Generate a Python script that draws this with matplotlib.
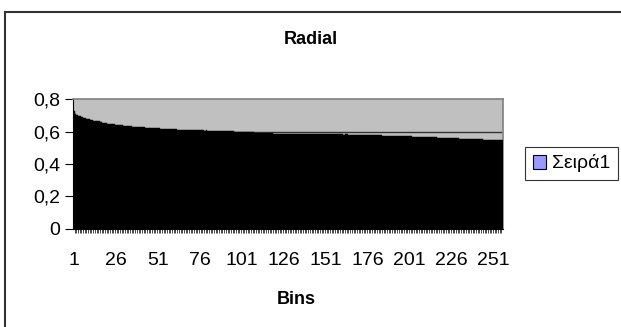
import matplotlib
matplotlib.use("Agg")
import matplotlib.pyplot as plt
from matplotlib.patches import Patch
from matplotlib.lines import Line2D

plt.rcParams['font.family'] = ['Liberation Sans', 'DejaVu Sans']

title = "Radial"
xlabel = "Bins"
series_name = "Σειρά1"

values = [
    0.729, 0.712, 0.705, 0.700, 0.696, 0.694, 0.688, 0.684, 0.679, 0.676, 0.672, 0.671, 0.668, 0.667, 0.666, 0.664,
    0.660, 0.657, 0.655, 0.654, 0.651, 0.650, 0.648, 0.648, 0.645, 0.643, 0.642, 0.641, 0.640, 0.639, 0.638, 0.636,
    0.636, 0.634, 0.633, 0.632, 0.631, 0.631, 0.630, 0.629, 0.628, 0.628, 0.627, 0.626, 0.626, 0.625, 0.624, 0.623,
    0.623, 0.622, 0.622, 0.621, 0.620, 0.620, 0.619, 0.619, 0.618, 0.617, 0.617, 0.616, 0.615, 0.614, 0.613, 0.612,
    0.612, 0.612, 0.611, 0.611, 0.611, 0.610, 0.610, 0.611, 0.610, 0.609, 0.609, 0.609, 0.608, 0.608, 0.607, 0.608,
    0.607, 0.606, 0.606, 0.606, 0.605, 0.606, 0.605, 0.604, 0.604, 0.604, 0.603, 0.603, 0.603, 0.602, 0.602, 0.602,
    0.601, 0.601, 0.601, 0.600, 0.600, 0.599, 0.599, 0.598, 0.598, 0.597, 0.596, 0.596, 0.595, 0.595, 0.594, 0.594,
    0.593, 0.592, 0.592, 0.591, 0.591, 0.590, 0.590, 0.589, 0.589, 0.588, 0.588, 0.587, 0.588, 0.587, 0.587, 0.586,
    0.586, 0.586, 0.587, 0.585, 0.585, 0.586, 0.587, 0.585, 0.585, 0.584, 0.585, 0.586, 0.584, 0.584, 0.585, 0.584,
    0.584, 0.585, 0.586, 0.587, 0.585, 0.584, 0.584, 0.583, 0.585, 0.586, 0.584, 0.583, 0.583, 0.584, 0.585, 0.583,
    0.583, 0.582, 0.583, 0.584, 0.582, 0.582, 0.581, 0.581, 0.582, 0.581, 0.580, 0.580, 0.581, 0.580, 0.579, 0.579,
    0.579, 0.579, 0.578, 0.578, 0.578, 0.577, 0.577, 0.577, 0.576, 0.576, 0.576, 0.575, 0.575, 0.575, 0.574, 0.574,
    0.574, 0.573, 0.573, 0.573, 0.572, 0.572, 0.572, 0.571, 0.571, 0.571, 0.570, 0.570, 0.570, 0.569, 0.569, 0.568,
    0.568, 0.568, 0.567, 0.567, 0.566, 0.566, 0.566, 0.565, 0.565, 0.564, 0.564, 0.564, 0.563, 0.563, 0.562, 0.562,
    0.561, 0.561, 0.560, 0.560, 0.559, 0.559, 0.558, 0.558, 0.557, 0.557, 0.556, 0.556, 0.555, 0.555, 0.554, 0.554,
    0.553, 0.553, 0.552, 0.552, 0.551, 0.551, 0.550, 0.550, 0.549, 0.549, 0.549, 0.548, 0.548, 0.548, 0.547, 0.547,
]
bins = list(range(1, len(values) + 1))
xtick_labels = [str(b) for b in bins if (b - 1) % 25 == 0]
ytick_vals = [0, 0.2, 0.4, 0.6, 0.8]
ytick_labels = ["0", "0,2", "0,4", "0,6", "0,8"]

fig = plt.figure(figsize=(6.21, 3.27), dpi=100)
fig.patch.set_facecolor("white")

# chart area border (top and left visible)
fig.add_artist(Line2D([5/621, 5/621], [0, 1 - 12/327], transform=fig.transFigure, color="#333333", lw=1.5))
fig.add_artist(Line2D([5/621, 1], [1 - 12/327, 1 - 12/327], transform=fig.transFigure, color="#333333", lw=1.5))

ax = fig.add_axes([73/621, 1 - 228.5/327, 430/621, 129/327])
ax.set_facecolor("#C0C0C0")
ax.bar(bins, values, width=1.0, color="black", edgecolor="black", linewidth=0.3, zorder=3)
ax.set_xlim(0.5, len(values) + 0.5)
ax.set_ylim(0, 0.8)

for y in ytick_vals[1:-1]:
    ax.axhline(y, color="#333333", lw=1.0, zorder=1)

ax.set_yticks(ytick_vals)
ax.set_yticklabels(ytick_labels, fontsize=14)
ax.tick_params(axis="y", direction="out", length=6, width=0.8, pad=3)

major = [b for b in bins if (b - 1) % 25 == 0]
ax.set_xticks(major)
ax.set_xticklabels(xtick_labels, fontsize=14)
ax.tick_params(axis="x", which="major", length=0, pad=17)
ax.set_xticks([b + 0.5 for b in bins[:-1]], minor=True)
ax.tick_params(axis="x", which="minor", direction="out", length=3, width=0.5, color="black")

for s in ["top", "right"]:
    ax.spines[s].set_color("#808080")
    ax.spines[s].set_linewidth(1.2)
for s in ["left", "bottom"]:
    ax.spines[s].set_color("black")
    ax.spines[s].set_linewidth(0.8)

fig.text(311/621, 1 - 40/327, title, ha="center", va="center", fontsize=13, fontweight="bold")
fig.text(296/621, 1 - 299/327, xlabel, ha="center", va="center", fontsize=13, fontweight="bold")

leg = fig.legend(handles=[Patch(facecolor="#9999FF", edgecolor="black", linewidth=0.8, label=series_name)],
                 loc="center", bbox_to_anchor=(571.5/621, 1 - 163.5/327), fontsize=14,
                 frameon=True, fancybox=False, edgecolor="black", handlelength=0.7, handleheight=0.7,
                 handletextpad=0.3, borderpad=0.4, borderaxespad=0)
leg.get_frame().set_linewidth(0.8)

fig.savefig("out.png", dpi=100)
